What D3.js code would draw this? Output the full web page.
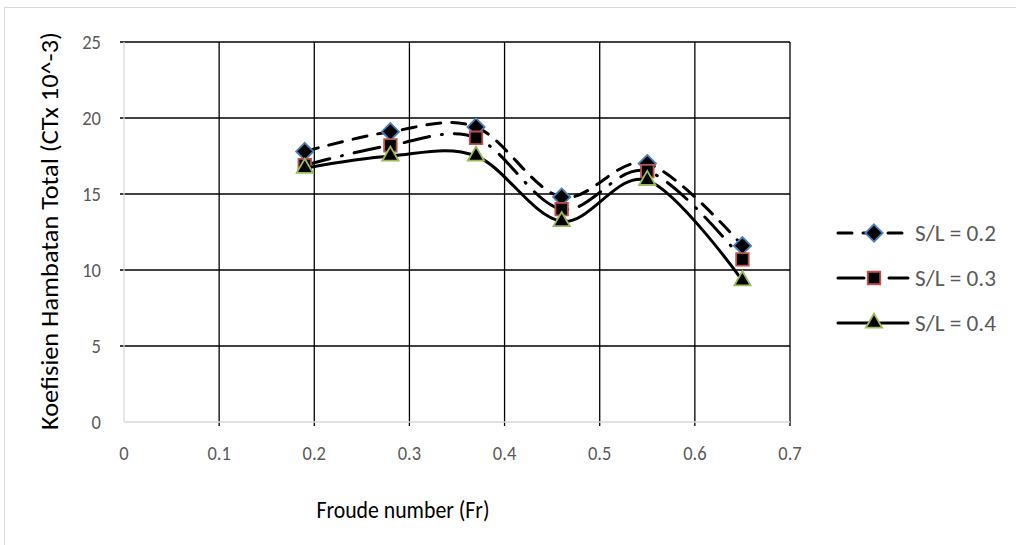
<!DOCTYPE html>
<html><head><meta charset="utf-8">
<script src="https://cdn.jsdelivr.net/npm/d3@7"></script>
<style>body{margin:0;background:#fff}svg{display:block}</style>
</head><body><svg id="c" width="1016" height="545"></svg>
<script>
const froude = [0.19, 0.28, 0.37, 0.46, 0.55, 0.65];
const sl02 = [17.8, 19.1, 19.4, 14.8, 17.0, 11.6];
const sl03 = [16.9, 18.2, 18.7, 14.0, 16.5, 10.7];
const sl04 = [16.7, 17.5, 17.5, 13.2, 15.9, 9.3];
const seriesNames = ["S/L = 0.2", "S/L = 0.3", "S/L = 0.4"];
const xTicks = [0, 0.1, 0.2, 0.3, 0.4, 0.5, 0.6, 0.7];
const yTicks = [0, 5, 10, 15, 20, 25];
const xTitle = "Froude number (Fr)";
const yTitle = "Koefisien Hambatan Total (CTx 10^-3)";

const FONT = "Carlito, Lato, 'Open Sans', sans-serif";
const svg = d3.select("#c");
const x = d3.scaleLinear().domain([0, 0.7]).range([124, 790]);
const y = d3.scaleLinear().domain([0, 25]).range([422, 42]);

svg.append("rect").attr("x", 4.5).attr("y", 7.5).attr("width", 1030).attr("height", 560)
  .attr("fill", "#fff").attr("stroke", "#d9d9d9").attr("stroke-width", 1);

function squeeze(sel, target) {
  sel.each(function() {
    const w = this.getComputedTextLength();
    const t = target > 2 ? target : w * target;
    d3.select(this).attr("textLength", t).attr("lengthAdjust", "spacingAndGlyphs");
  });
}

const g = svg.append("g");
g.selectAll("line.h").data(yTicks.filter(d => d > 0)).join("line")
  .attr("x1", x(0) - 4).attr("x2", x(0.7)).attr("y1", d => y(d)).attr("y2", d => y(d))
  .attr("stroke", "#000").attr("stroke-width", 1.3);
g.selectAll("line.v").data(xTicks.filter(d => d > 0)).join("line")
  .attr("y1", y(25)).attr("y2", y(0) + 4).attr("x1", d => x(d)).attr("x2", d => x(d))
  .attr("stroke", "#000").attr("stroke-width", 1.3);
g.append("line").attr("x1", x(0)).attr("x2", x(0)).attr("y1", y(25)).attr("y2", y(0))
  .attr("stroke", "#d9d9d9").attr("stroke-width", 1.3);
g.append("line").attr("x1", x(0)).attr("x2", x(0.7)).attr("y1", y(0)).attr("y2", y(0))
  .attr("stroke", "#d9d9d9").attr("stroke-width", 1.3);

const xt = svg.append("g").selectAll("text").data(xTicks).join("text")
  .attr("x", d => x(d)).attr("y", 453).attr("text-anchor", "middle").attr("dominant-baseline", "central")
  .attr("font-family", FONT).attr("font-size", 21).attr("fill", "#595959").text(d => d);
const yt = svg.append("g").selectAll("text").data(yTicks).join("text")
  .attr("x", 101).attr("y", d => y(d)).attr("text-anchor", "end").attr("dominant-baseline", "central")
  .attr("font-family", FONT).attr("font-size", 21).attr("fill", "#595959").text(d => d);
squeeze(xt, 0.88); squeeze(yt, 0.88);

const xtT = svg.append("text").attr("x", 403).attr("y", 509).attr("text-anchor", "middle")
  .attr("dominant-baseline", "central").attr("font-family", FONT).attr("font-size", 24)
  .attr("fill", "#000").text(xTitle);
squeeze(xtT, 173);
const ytT = svg.append("text").attr("transform", "translate(49,231) rotate(-90)").attr("text-anchor", "middle")
  .attr("dominant-baseline", "central").attr("font-family", FONT).attr("font-size", 24)
  .attr("fill", "#000").text(yTitle);
squeeze(ytT, 398);

const styles = [
  {vals: sl02, dash: "14,11", color: "#4a7ebb", shape: d3.symbolDiamond2, size: 190},
  {vals: sl03, dash: "26,12,1,12", color: "#c0504d", shape: d3.symbolSquare2, size: 200},
  {vals: sl04, dash: null, color: "#9bbb59", shape: d3.symbolTriangle2, size: 190}
];
const line = d3.line().x(d => x(d[0])).y(d => y(d[1])).curve(d3.curveCardinal.tension(0));
function marker(sel, s) {
  sel.attr("d", d3.symbol().type(s.shape).size(s.size)).attr("fill", "#000")
    .attr("stroke", s.color).attr("stroke-width", 1.8);
}
styles.forEach((s, i) => {
  const pts = froude.map((f, j) => [f, s.vals[j]]);
  const gg = svg.append("g");
  gg.append("path").attr("d", line(pts)).attr("fill", "none").attr("stroke", "#000")
    .attr("stroke-width", 3).attr("stroke-linecap", "round")
    .attr("stroke-dasharray", s.dash);
  gg.selectAll("path.m").data(pts).join("path").attr("class", "m")
    .attr("transform", d => `translate(${x(d[0])},${y(d[1])})`).call(marker, s);
});

const legY = [233, 278, 323];
styles.forEach((s, i) => {
  const lg = svg.append("g");
  lg.append("line").attr("x1", 838).attr("x2", 908).attr("y1", legY[i]).attr("y2", legY[i])
    .attr("stroke", "#000").attr("stroke-width", 3).attr("stroke-linecap", "round")
    .attr("stroke-dasharray", s.dash);
  lg.append("path").attr("transform", `translate(874,${legY[i]})`).call(marker, s);
  const t = lg.append("text").attr("x", 915).attr("y", legY[i]).attr("dominant-baseline", "central")
    .attr("font-family", FONT).attr("font-size", 22).attr("fill", "#595959").text(seriesNames[i]);
  squeeze(t, 81);
});
</script></body></html>
